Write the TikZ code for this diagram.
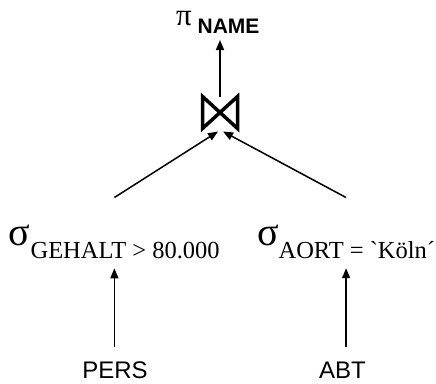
\documentclass[tikz,border=0pt]{standalone}
\usepackage{fontspec}
\setmainfont[Ligatures=TeXOff]{Liberation Serif}
\newfontfamily\arial{Liberation Sans}
\usetikzlibrary{arrows.meta}
\begin{document}
\begin{tikzpicture}[x=1pt,y=-1pt,
  txt/.style={inner sep=0pt,outer sep=0pt},
  conn/.style={line width=1.5pt,-{Triangle[length=10pt,width=8pt]}},
  bowtie/.style={line width=3.5pt,line join=miter},
  rel/.style={txt,font=\arial\fontsize{24}{24}\selectfont}]
\useasboundingbox (0,0) rectangle (436,383);
% projection
\node[txt,anchor=base west] (proj) at (176,25)
  {{\fontsize{31}{31}\selectfont π}\hspace{6pt}\raisebox{-8pt}{\arial\bfseries\fontsize{21}{21}\selectfont NAME}};
% join
\node[txt,minimum width=35pt,minimum height=32pt] (join) at (220,112.5) {};
\draw[bowtie] (join.north west) -- (join.south west) -- (join.north east) -- (join.south east) -- cycle;
% selections
\node[txt,anchor=base west] (sel1) at (9,245)
  {{\fontsize{40}{40}\selectfont σ}\raisebox{-13pt}{\fontsize{24.5}{24.5}\selectfont GEHALT > 80.000}};
\node[txt,anchor=base west] (sel2) at (257,245)
  {{\fontsize{40}{40}\selectfont σ}\raisebox{-13pt}{\fontsize{24.5}{24.5}\selectfont AORT = `Köln´}};
% relations
\node[rel,anchor=base] (pers) at (115,378) {PERS};
\node[rel,anchor=base] (abt) at (342.5,378) {ABT};
% connectors
\draw[conn] (join.north) -- ([yshift=-7pt]join.north |- proj.south);
\draw[conn] ([yshift=27pt]sel1.north) -- ([xshift=-2pt,yshift=-3pt]join.south);
\draw[conn] ([yshift=27pt]sel2.north) -- ([xshift=3pt,yshift=-3pt]join.south);
\draw[conn] ([yshift=14pt]pers.north -| sel1.south) -- ([yshift=-10pt]sel1.south);
\draw[conn] ([yshift=14pt]abt.north -| sel2.south) -- ([yshift=-10pt]sel2.south);
\end{tikzpicture}
\end{document}
